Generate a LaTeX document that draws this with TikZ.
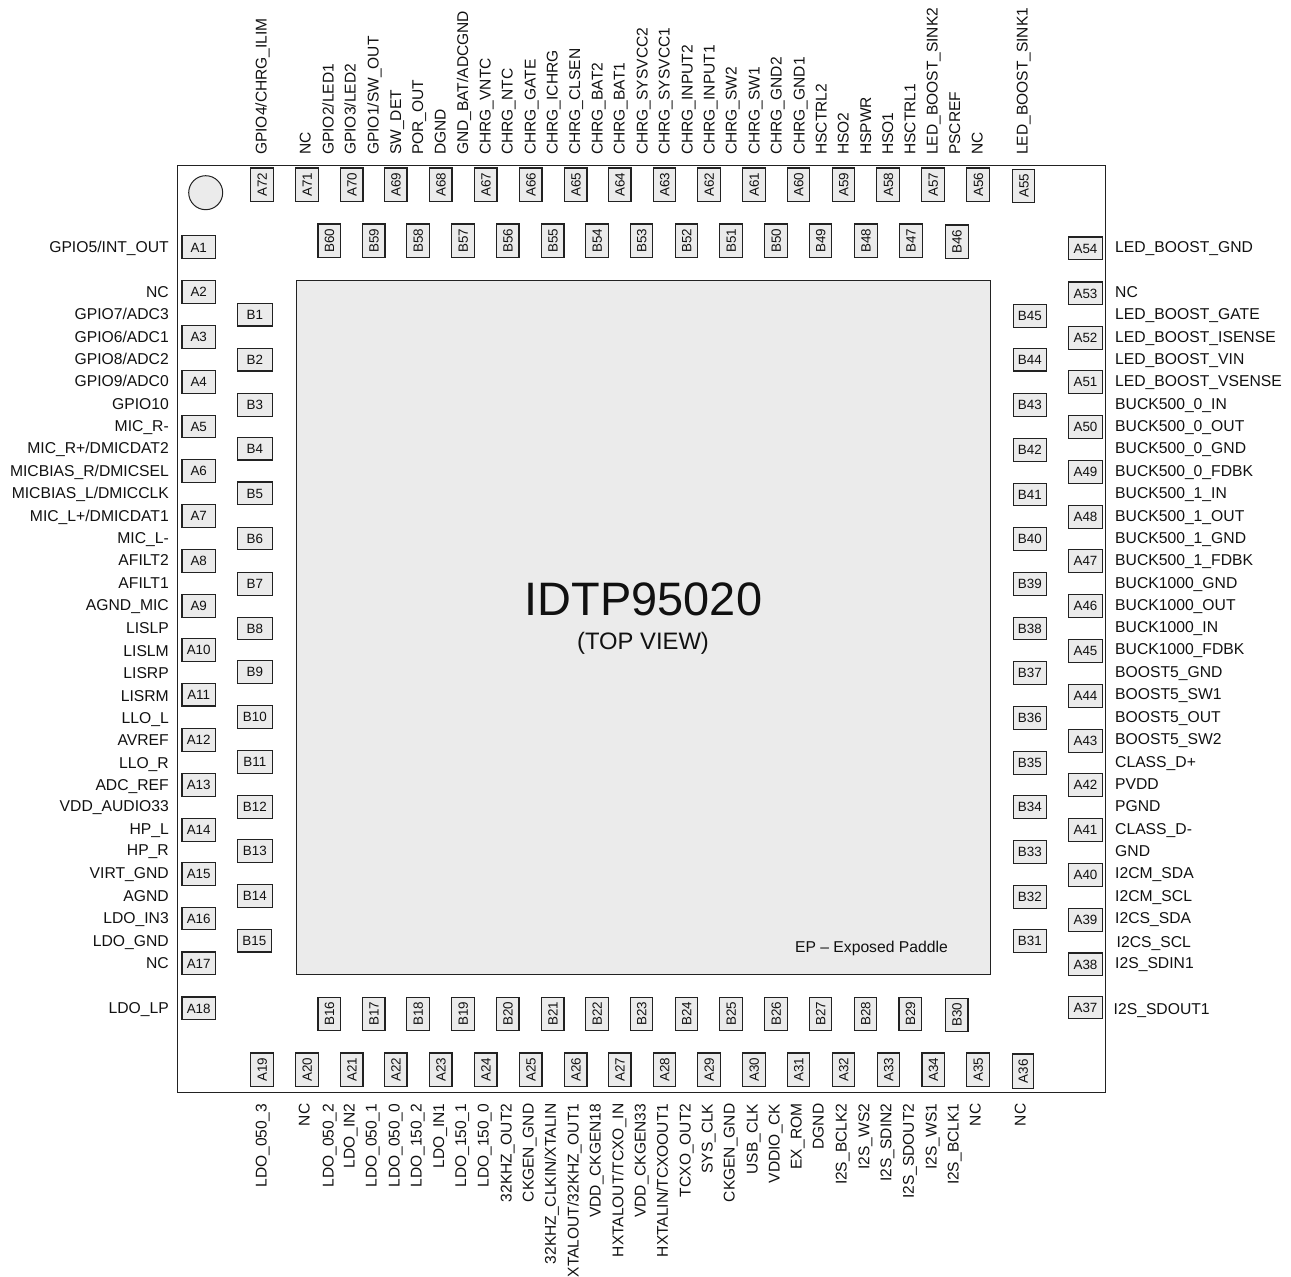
\documentclass[tikz,border=0pt]{standalone}
\usepackage{fontspec}
\setmainfont{Liberation Sans}
\definecolor{pinfill}{HTML}{EBEBEB}
\definecolor{ink}{HTML}{222222}
\definecolor{labelink}{HTML}{111111}
\tikzset{
  pinbox/.style={draw=ink,fill=pinfill,line width=1.15pt,inner sep=0pt,text=labelink,font=\fontsize{13.4}{14}\selectfont,text height=9.6pt,text depth=0pt},
  hpin/.style={pinbox,minimum width=33.4pt,minimum height=22.6pt},
  widepin/.style={pinbox,minimum width=34.8pt,minimum height=22.6pt},
  vpin/.style={pinbox,rotate=90,minimum width=33.4pt,minimum height=22.6pt},
  sig/.style={inner sep=0pt,text=labelink,font=\fontsize{15.7}{17}\selectfont,text height=11.2pt,text depth=0pt},
  sigleft/.style={sig,anchor=east},
  sigright/.style={sig,anchor=west},
  sigtop/.style={sig,font=\fontsize{15.55}{17}\selectfont,rotate=90,anchor=west},
  sigbot/.style={sig,font=\fontsize{15.55}{17}\selectfont,rotate=90,anchor=east},
}
\begin{document}
\begin{tikzpicture}[x=1pt,y=-1pt]
\useasboundingbox (0,0) rectangle (1291,1277);
\node[draw=ink,line width=1.3pt,minimum width=928.5pt,minimum height=927.5pt,inner sep=0pt] (pkg) at (641.5,629) {};
\node[draw=ink,fill=pinfill,line width=1.2pt,minimum width=694pt,minimum height=694pt,inner sep=0pt] (pad) at (643.7,627.7) {};
\node[draw=ink,fill=pinfill,line width=1pt,circle,minimum size=34pt,inner sep=0pt] (mark) at (205.7,192.7) {};
\node[sig,font=\fontsize{46.9}{48}\selectfont,text height=33.6pt] (title) at (643.5,599) {IDTP95020};
\node[sig,font=\fontsize{23.8}{25}\selectfont,text height=17pt] (sub) at (643,641) {(TOP VIEW)};
\node[sig,anchor=east] (ep) at (948,947) {EP – Exposed Paddle};
% A pins, left
\foreach \n/\y in {1/247.2,2/292,3/337,4/382,5/426.5,6/470.8,7/515.8,8/561,9/606,10/650,11/694.7,12/739.8,13/784.8,14/829.8,15/873.8,16/918.5,17/963.3,18/1008.3}
  \node[hpin] (A\n) at (198.7,\y) {A\n};
% B pins, left
\foreach \n/\y in {1/314.7,2/359.7,3/404.8,4/448.7,5/493.3,6/538.5,7/583.8,8/628.5,9/672,10/717,11/762,12/807,13/851,14/896}
  \node[widepin] (B\n) at (254.8,\y) {B\n};
\node[hpin] (B15) at (254.4,940.7) {B15};
% A pins, bottom
\foreach \n/\x in {19/262,20/307,21/351.7,22/395.7,23/440.7,24/485.7,25/530.7,26/575.7,27/619.7,28/664.5,29/709,30/754,31/798.5,32/843.5,33/888.5,34/933.3,35/978}
  \node[vpin] (A\n) at (\x,1069.7) {A\n};
\node[vpin,minimum width=34.6pt,minimum height=21.8pt] (A36) at (1023,1071.3) {A36};
% B pins, bottom
\foreach \n/\x in {16/329.3,17/373.7,18/418,19/463,20/507.7,21/552.7,22/597,23/641.5,24/686.5,25/731,26/776,27/820.5,28/865.5,29/910.3}
  \node[vpin] (B\n) at (\x,1013.8) {B\n};
\node[vpin] (B30) at (956.7,1014.8) {B30};
% A pins, right
\foreach \n/\y in {54/248.3,53/293.3,52/338,51/382,50/427,49/472,48/517,47/561,46/606,45/650.8,44/696,43/740.8,42/785,41/829.8,40/875,39/920,38/964.3,37/1007.5}
  \node[hpin] (A\n) at (1085.5,\y) {A\n};
% B pins, right
\foreach \n/\y in {45/316,44/359.7,43/404.8,42/449.8,41/494.5,40/539,39/583.8,38/628.5,37/673,36/718,35/762.8,34/807,33/852,32/897,31/940.8}
  \node[hpin] (B\n) at (1029.8,\y) {B\n};
% A pins, top
\foreach \n/\x in {72/262,71/307,70/351.7,69/395.7,68/440.7,67/485.7,66/530.7,65/575.7,64/619.7,63/664.5,62/709,61/754,60/798.5,59/843.5,58/888.2,57/933,56/978.2}
  \node[vpin] (A\n) at (\x,184.7) {A\n};
\node[vpin,minimum height=21.8pt] (A55) at (1023.8,186) {A55};
% B pins, top
\foreach \n/\x in {60/329.3,59/373.7,58/418,57/463,56/507.7,55/552.7,54/597,53/641.5,52/686.5,51/731,50/776,49/820.5,48/865.8,47/910.8}
  \node[vpin] (B\n) at (\x,240.7) {B\n};
\node[vpin] (B46) at (956.8,241.7) {B46};
% labels, left
\foreach \i/\y/\t in {
 1/247/{GPIO5/INT\_OUT},2/291.5/NC,3/314/{GPIO7/ADC3},4/336.7/{GPIO6/ADC1},5/359/{GPIO8/ADC2},6/381/{GPIO9/ADC0},7/404/GPIO10,8/425.7/MIC\_R-,
 9/448/{MIC\_R+/DMICDAT2},10/470.7/{MICBIAS\_R/DMICSEL},11/493/{MICBIAS\_L/DMICCLK},12/515.7/{MIC\_L+/DMICDAT1},13/537.7/MIC\_L-,14/560/AFILT2,15/582.7/AFILT1,16/604.7/AGND\_MIC,
 17/628.3/LISLP,18/650.7/LISLM,19/672.7/LISRP,20/696/LISRM,21/717.7/LLO\_L,22/739.7/AVREF,23/762.7/LLO\_R,24/784.7/ADC\_REF,25/805.7/VDD\_AUDIO33,26/829/HP\_L,27/850.3/HP\_R,
 28/873/VIRT\_GND,29/895.7/AGND,30/917.7/LDO\_IN3,31/941/LDO\_GND,32/963/NC,33/1008/LDO\_LP}
  \node[sigleft] (L\i) at (169,\y) {\t};
% labels, right
\foreach \i/\y/\t in {
 1/247/LED\_BOOST\_GND,2/291.5/NC,3/314/LED\_BOOST\_GATE,4/336.7/LED\_BOOST\_ISENSE,5/359/LED\_BOOST\_VIN,6/381/LED\_BOOST\_VSENSE,
 7/404/BUCK500\_0\_IN,8/425.7/BUCK500\_0\_OUT,9/448/BUCK500\_0\_GND,10/470.7/BUCK500\_0\_FDBK,11/493/BUCK500\_1\_IN,12/515.7/BUCK500\_1\_OUT,13/537.7/BUCK500\_1\_GND,14/560/BUCK500\_1\_FDBK,
 15/582.7/BUCK1000\_GND,16/604.7/BUCK1000\_OUT,17/626.7/BUCK1000\_IN,18/649.3/BUCK1000\_FDBK,19/671.7/BOOST5\_GND,20/694.3/BOOST5\_SW1,21/716.7/BOOST5\_OUT,22/739/BOOST5\_SW2,
 23/761.7/CLASS\_D+,24/783.7/PVDD,25/805.7/PGND,26/828.7/CLASS\_D-,27/850.7/GND,28/873/I2CM\_SDA,29/895.7/I2CM\_SCL,30/917.7/I2CS\_SDA,32/962.5/I2S\_SDIN1}
  \node[sigright] (R\i) at (1115,\y) {\t};
\node[sigright] (R31) at (1116.5,941.5) {I2CS\_SCL};
\node[sigright] (R33) at (1113.5,1008.5) {I2S\_SDOUT1};
% labels, top
\foreach \i/\x/\t in {
 1/261/{GPIO4/CHRG\_ILIM},2/305/NC,3/328/{GPIO2/LED1},4/350/{GPIO3/LED2},5/373/{GPIO1/SW\_OUT},6/395.5/SW\_DET,7/417.5/POR\_OUT,8/440/DGND,9/462.6/{GND\_BAT/ADCGND},
 10/485/CHRG\_VNTC,11/507/CHRG\_NTC,12/530/CHRG\_GATE,13/552/CHRG\_ICHRG,14/574.5/CHRG\_CLSEN,15/597/CHRG\_BAT2,16/619/CHRG\_BAT1,17/642/CHRG\_SYSVCC2,18/664/CHRG\_SYSVCC1,
 19/687/CHRG\_INPUT2,20/709/CHRG\_INPUT1,21/731/CHRG\_SW2,22/754/CHRG\_SW1,23/776/CHRG\_GND2,24/799/CHRG\_GND1,25/821/HSCTRL2,26/843/HSO2,27/865.5/HSPWR,28/887.5/HSO1,
 29/909.7/HSCTRL1,30/932/LED\_BOOST\_SINK2,31/954.5/PSCREF,32/977/NC,33/1022/LED\_BOOST\_SINK1}
  \node[sigtop] (T\i) at (\x,155) {\t};
% labels, bottom
\foreach \i/\x/\t in {
 1/261/LDO\_050\_3,2/304/NC,3/328/LDO\_050\_2,4/349/LDO\_IN2,5/371/LDO\_050\_1,6/394/LDO\_050\_0,7/416/LDO\_150\_2,8/438.5/LDO\_IN1,9/460.5/LDO\_150\_1,10/483/LDO\_150\_0,
 11/506/32KHZ\_OUT2,12/528/CKGEN\_GND,13/550.3/{32KHZ\_CLKIN/XTALIN},14/573/{XTALOUT/32KHZ\_OUT1},15/595/VDD\_CKGEN18,16/617.8/{HXTALOUT/TCXO\_IN},17/640/VDD\_CKGEN33,18/662.3/{HXTALIN/TCXOOUT1},
 19/685/TCXO\_OUT2,20/707/SYS\_CLK,21/729/CKGEN\_GND,22/752/USB\_CLK,23/774/VDDIO\_CK,24/796/EX\_ROM,25/818/DGND,26/841/I2S\_BCLK2,27/863.7/I2S\_WS2,28/885.8/I2S\_SDIN2,29/908.3/I2S\_SDOUT2,
 30/931/I2S\_WS1,31/953/I2S\_BCLK1,32/975/NC,33/1020/NC}
  \node[sigbot] (S\i) at (\x,1103.5) {\t};
\end{tikzpicture}
\end{document}
